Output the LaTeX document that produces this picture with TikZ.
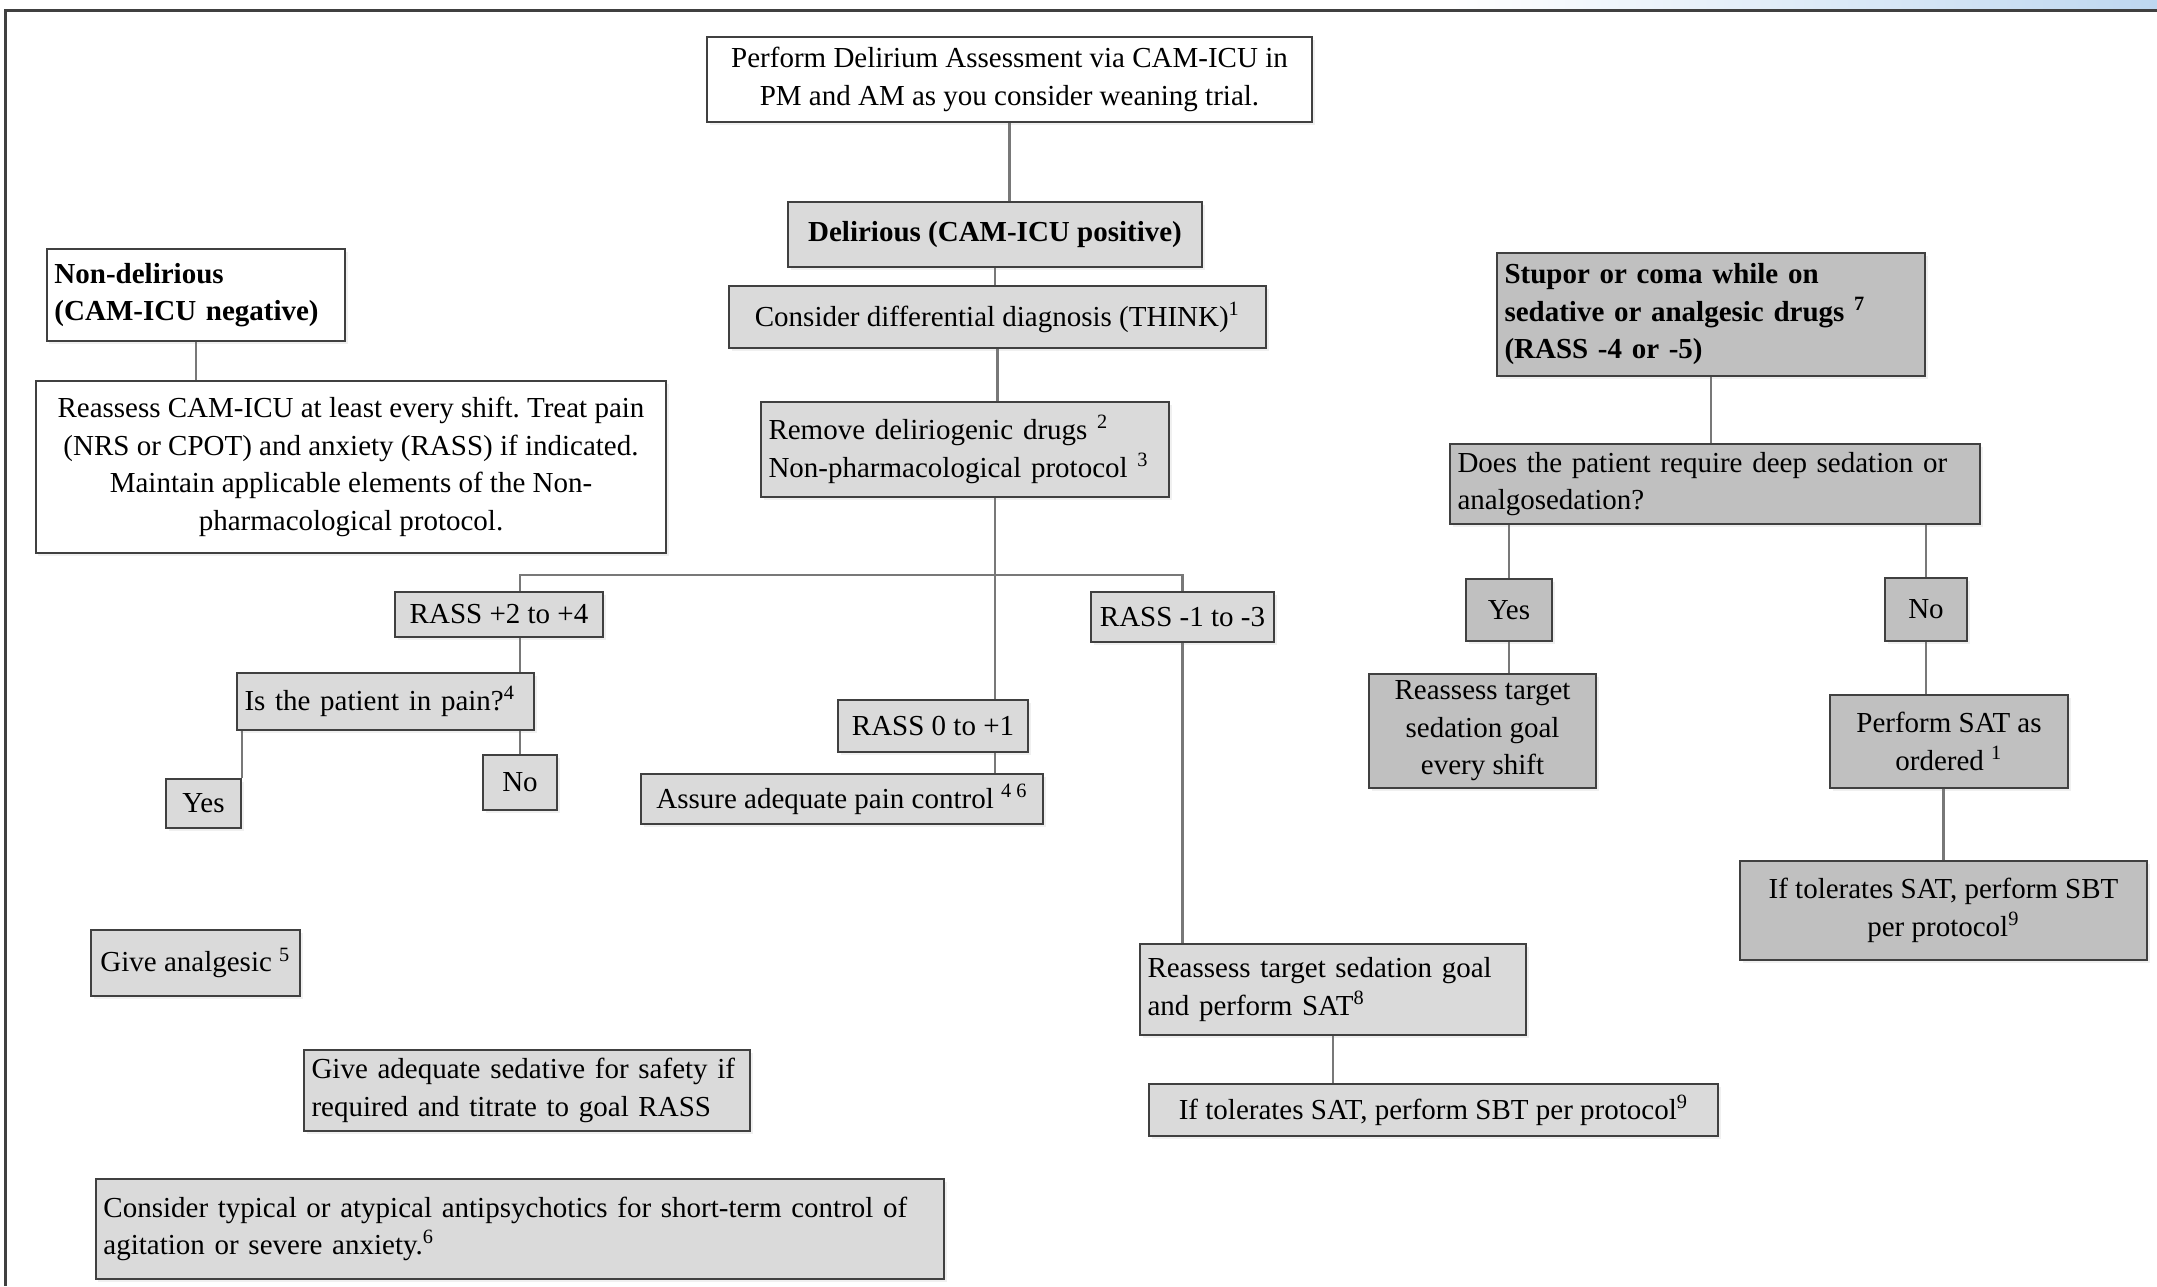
\documentclass[tikz,border=0pt]{standalone}
\usepackage{fontspec}
\setmainfont{Liberation Serif}
\usepackage{tikz}
\usetikzlibrary{positioning, shadows}
\frenchspacing
\newcommand{\carefont}{\fontsize{11.6}{15}\selectfont}
\tikzset{
    carebox/.style={rectangle, draw=boxedge, fill=#1, line width=1pt, inner xsep=3pt, inner ysep=1pt, align=center, font=\carefont, drop shadow={opacity=0.12, shadow xshift=1pt, shadow yshift=-1pt}},
    carebox/.default=white,
    boxdim/.style 2 args={minimum width=#1, minimum height=#2},
    lefttext/.style={align=left, text width=#1},
    carelink/.style={draw=linkgray, line width=0.9pt}
}
\definecolor{boxedge}{RGB}{64,64,64}
\definecolor{paleshade}{RGB}{218,218,218}
\definecolor{darkshade}{RGB}{192,192,192}
\definecolor{linkgray}{RGB}{120,120,120}
\definecolor{framesky}{RGB}{190,215,240}

\begin{document}
\begin{tikzpicture}[x=0.4pt, y=-0.4pt]
\useasboundingbox (0,0) rectangle (2157,1286);
\shade[left color=white, right color=framesky] (1450,0) rectangle (2157,9);
\draw[boxedge, line width=1.2pt] (2157,10) -- (5,10) -- (5,1286);

\node[carebox, boxdim={242pt}{34pt}] (top) at (1009.5,79.5) {Perform Delirium Assessment via CAM-ICU in\\PM and AM as you consider weaning trial.};
\node[carebox=paleshade, boxdim={165.6pt}{26pt}, font=\carefont\bfseries] (delir) at (995,234.5) {Delirious (CAM-ICU positive)};
\node[carebox=paleshade, boxdim={214.8pt}{24.8pt}] (think) at (997.5,317) {Consider differential diagnosis (THINK)\textsuperscript{1}};
\node[carebox=paleshade, boxdim={163.2pt}{38pt}, lefttext=157.2pt] (remove) at (965,449.5) {Remove deliriogenic drugs \textsuperscript{2}\\Non-pharmacological protocol \textsuperscript{3}};
\node[carebox, boxdim={119.2pt}{36.8pt}, lefttext=113.2pt, font=\carefont\bfseries] (nondel) at (196,295) {Non-delirious\\(CAM-ICU negative)};
\node[carebox, boxdim={252pt}{68.8pt}] (reassess) at (351,467) {Reassess CAM-ICU at least every shift. Treat pain\\(NRS or CPOT) and anxiety (RASS) if indicated.\\Maintain applicable elements of the Non-\\pharmacological protocol.};
\node[carebox=paleshade, boxdim={83.2pt}{18pt}] (rassA) at (499,614.5) {RASS +2 to +4};
\node[carebox=paleshade, boxdim={118.8pt}{22.8pt}, lefttext=112.8pt] (pain) at (385.5,701.5) {Is the patient in pain?\textsuperscript{4}};
\node[carebox=paleshade, boxdim={30pt}{19.6pt}] (yesA) at (203.5,803.5) {Yes};
\node[carebox=paleshade, boxdim={29.6pt}{22pt}] (noA) at (520,782.5) {No};
\node[carebox=paleshade, boxdim={76pt}{20.8pt}] (rassB) at (933,726) {RASS 0 to +1};
\node[carebox=paleshade, boxdim={160.8pt}{20pt}] (assure) at (842,799) {Assure adequate pain control \textsuperscript{4 6}};
\node[carebox=paleshade, boxdim={73.2pt}{20pt}] (rassC) at (1182.5,617) {RASS -1 to -3};
\node[carebox=paleshade, boxdim={154.4pt}{36.4pt}, lefttext=148.4pt] (satA) at (1333,989.5) {Reassess target sedation goal\\and perform SAT\textsuperscript{8}};
\node[carebox=paleshade, boxdim={227.6pt}{20.8pt}] (sbtA) at (1433.5,1110) {If tolerates SAT, perform SBT per protocol\textsuperscript{9}};
\node[carebox=paleshade, boxdim={83.6pt}{26.4pt}] (analg) at (195.5,963) {Give analgesic \textsuperscript{5}};
\node[carebox=paleshade, boxdim={178.4pt}{32.4pt}, lefttext=172.4pt] (sedat) at (527,1090.5) {Give adequate sedative for safety if\\required and titrate to goal RASS};
\node[carebox=paleshade, boxdim={339.2pt}{40pt}, lefttext=333.2pt] (antips) at (520,1229) {Consider typical or atypical antipsychotics for short-term control of\\agitation or severe anxiety.\textsuperscript{6}};
\node[carebox=darkshade, boxdim={171.2pt}{49.2pt}, lefttext=165.2pt, font=\carefont\bfseries] (stupor) at (1711,314.5) {Stupor or coma while on\\sedative or analgesic drugs \textsuperscript{7}\\(RASS -4 or -5)};
\node[carebox=darkshade, boxdim={212pt}{32pt}, lefttext=206pt] (deep) at (1715,484) {Does the patient require deep sedation or\\analgosedation?};
\node[carebox=darkshade, boxdim={34.4pt}{24.8pt}] (yesB) at (1509,610) {Yes};
\node[carebox=darkshade, boxdim={32.8pt}{25.2pt}] (noB) at (1926,609.5) {No};
\node[carebox=darkshade, boxdim={90.8pt}{45.6pt}] (tgt) at (1482.5,731) {Reassess target\\sedation goal\\every shift};
\node[carebox=darkshade, boxdim={95.2pt}{37.2pt}] (satB) at (1949,741.5) {Perform SAT as\\ordered \textsuperscript{1}};
\node[carebox=darkshade, boxdim={162.8pt}{39.6pt}] (sbtB) at (1943.5,910.5) {If tolerates SAT, perform SBT\\per protocol\textsuperscript{9}};

\coordinate (trunk) at (995,575);
\draw[carelink] (top.south) -- (top.south |- delir.north);
\draw[carelink] (delir.south) -- (delir.south |- think.north);
\draw[carelink] (think.south) -- (think.south |- remove.north);
\draw[carelink] (remove.south -| trunk) -- (rassB.north -| trunk);
\draw[carelink] (rassA.north -| noA) |- (trunk) -| (rassC.north);
\draw[carelink] (rassA.south -| noA) -- (pain.north -| noA);
\draw[carelink] (pain.south -| noA) -- (noA);
\draw[carelink] (pain.south -| yesA.east) -- (yesA.north east);
\draw[carelink] (rassB.south -| trunk) -- (assure.north -| trunk);
\draw[carelink] (rassC.south) -- (rassC.south |- satA.north);
\draw[carelink] (satA.south) -- (satA.south |- sbtA.north);
\draw[carelink] (nondel.south) -- (nondel.south |- reassess.north);
\draw[carelink] (stupor.south) -- (stupor.south |- deep.north);
\draw[carelink] (deep.south -| yesB) -- (yesB);
\draw[carelink] (deep.south -| noB) -- (noB);
\draw[carelink] (yesB) -- (tgt.north -| yesB);
\draw[carelink] (noB) -- (satB.north -| noB);
\draw[carelink] (satB.south -| sbtB) -- (sbtB);

\end{tikzpicture}
\end{document}
